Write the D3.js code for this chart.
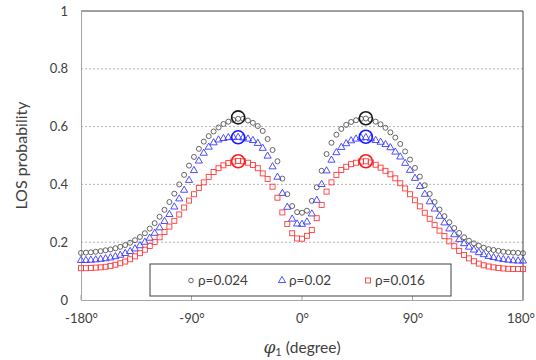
<!DOCTYPE html>
<html>
<head>
<meta charset="utf-8">
<script src="https://cdn.jsdelivr.net/npm/d3@7"></script>
<style>
  body { margin: 0; background: #fff; }
  svg text { font-family: Lato, "Open Sans", sans-serif; fill: #404040; }
</style>
</head>
<body>
<svg id="chart" width="536" height="360"></svg>
<script>
// azimuth angles (degrees), one sample every 4 degrees
const angles = [-180,-176,-172,-168,-164,-160,-156,-152,-148,-144,-140,-136,-132,-128,-124,-120,
  -116,-112,-108,-104,-100,-96,-92,-88,-84,-80,-76,-72,-68,-64,-60,-56,-52,-48,-44,-40,-36,-32,
  -28,-24,-20,-16,-12,-8,-4,0,4,8,12,16,20,24,28,32,36,40,44,48,52,56,60,64,68,72,76,80,84,88,
  92,96,100,104,108,112,116,120,124,128,132,136,140,144,148,152,156,160,164,168,172,176,180];

// LOS probability, rho = 0.024
const los024 = [0.163,0.164,0.165,0.167,0.169,0.172,0.175,0.179,0.184,0.19,0.198,0.207,0.218,0.231,
  0.247,0.266,0.288,0.312,0.339,0.368,0.4,0.433,0.465,0.495,0.523,0.548,0.567,0.583,0.597,0.609,
  0.617,0.623,0.627,0.627,0.621,0.613,0.602,0.585,0.557,0.519,0.48,0.42,0.366,0.325,0.304,0.302,
  0.309,0.343,0.39,0.447,0.505,0.544,0.572,0.592,0.606,0.616,0.622,0.627,0.628,0.624,0.617,0.608,
  0.596,0.58,0.562,0.54,0.514,0.486,0.457,0.427,0.397,0.367,0.339,0.313,0.29,0.269,0.249,0.232,
  0.217,0.205,0.196,0.188,0.181,0.176,0.173,0.17,0.167,0.165,0.164,0.163,0.162];

// LOS probability, rho = 0.02
const los020 = [0.137,0.137,0.138,0.139,0.141,0.143,0.146,0.15,0.155,0.161,0.168,0.177,0.188,0.2,
  0.214,0.231,0.25,0.272,0.296,0.322,0.35,0.38,0.414,0.448,0.481,0.508,0.529,0.544,0.554,0.559,
  0.562,0.563,0.563,0.561,0.557,0.552,0.542,0.525,0.498,0.461,0.425,0.369,0.321,0.28,0.263,0.262,
  0.27,0.298,0.345,0.4,0.447,0.484,0.51,0.528,0.541,0.551,0.557,0.561,0.562,0.558,0.552,0.546,
  0.538,0.527,0.512,0.495,0.473,0.449,0.421,0.393,0.366,0.34,0.315,0.29,0.267,0.246,0.226,0.209,
  0.195,0.183,0.173,0.164,0.157,0.151,0.147,0.143,0.14,0.138,0.136,0.135,0.135];

// LOS probability, rho = 0.016
const los016 = [0.11,0.11,0.111,0.112,0.113,0.115,0.118,0.122,0.127,0.133,0.141,0.151,0.162,0.174,
  0.187,0.201,0.217,0.235,0.254,0.274,0.296,0.32,0.344,0.366,0.388,0.407,0.426,0.443,0.456,0.466,
  0.474,0.479,0.481,0.48,0.475,0.467,0.456,0.438,0.419,0.392,0.354,0.303,0.263,0.231,0.213,0.212,
  0.222,0.242,0.283,0.329,0.375,0.407,0.433,0.45,0.461,0.47,0.475,0.479,0.48,0.476,0.468,0.458,
  0.447,0.435,0.421,0.404,0.386,0.366,0.345,0.324,0.302,0.281,0.26,0.24,0.221,0.203,0.186,0.17,
  0.156,0.144,0.134,0.126,0.12,0.116,0.113,0.111,0.109,0.108,0.107,0.107,0.107];

// highlighted maxima (big circles)
const peakAngles = [-52, 52];
const peak024 = [0.632, 0.629];
const peak020 = [0.563, 0.565];
const peak016 = [0.48, 0.48];

const xTicks = [-180, -90, 0, 90, 180];
const yTicks = [0, 0.2, 0.4, 0.6, 0.8, 1];
const seriesNames = ["ρ=0.024", "ρ=0.02", "ρ=0.016"];

const margin = { top: 11, right: 13, bottom: 60, left: 81 };
const width = 536 - margin.left - margin.right;
const height = 360 - margin.top - margin.bottom;

const svg = d3.select("#chart");
const g = svg.append("g").attr("transform", "translate(" + margin.left + "," + margin.top + ")");

const x = d3.scaleLinear().domain([-180, 180]).range([0, width]);
const y = d3.scaleLinear().domain([0, 1]).range([height, 0]);

// dashed horizontal gridlines
g.append("g")
  .selectAll("line")
  .data(yTicks.filter(d => d > 0 && d < 1))
  .enter().append("line")
  .attr("x1", 0).attr("x2", width)
  .attr("y1", d => y(d)).attr("y2", d => y(d))
  .attr("stroke", "#a0a0a0")
  .attr("stroke-width", 0.8)
  .attr("stroke-dasharray", "2,2");

// plot border top / right
g.append("line").attr("x1", 0).attr("x2", width).attr("y1", 0).attr("y2", 0)
  .attr("stroke", "#404040").attr("stroke-width", 1);
g.append("line").attr("x1", width).attr("x2", width).attr("y1", 0).attr("y2", height)
  .attr("stroke", "#404040").attr("stroke-width", 1);

// axes
const xAxis = g.append("g")
  .attr("transform", "translate(0," + height + ")")
  .call(d3.axisBottom(x).tickValues(xTicks).tickSize(0).tickPadding(14).tickFormat(d => d + "°"));
const yAxis = g.append("g")
  .call(d3.axisLeft(y).tickValues(yTicks).tickSize(0).tickPadding(13).tickFormat(d => d));
[xAxis, yAxis].forEach(a => {
  a.select(".domain").attr("stroke", "#a6a6a6").attr("stroke-width", 1);
  a.selectAll("text").style("font-size", "13px").attr("fill", "#404040");
});
// keep the last label inside the page
xAxis.selectAll(".tick").filter(d => d === 180).select("text").attr("dx", "-0.2em");

// small inner ticks on x axis
g.append("g").selectAll("line")
  .data(xTicks)
  .enter().append("line")
  .attr("x1", d => x(d)).attr("x2", d => x(d))
  .attr("y1", height).attr("y2", height - 5)
  .attr("stroke", "#a6a6a6");

// markers
const symTri = d3.symbol().type(d3.symbolTriangle).size(22);

g.append("g").selectAll("circle")
  .data(angles.map((a, i) => [a, los024[i]]))
  .enter().append("circle")
  .attr("cx", d => x(d[0])).attr("cy", d => y(d[1])).attr("r", 2.5)
  .attr("fill", "none").attr("stroke", "#555").attr("stroke-width", 0.9);

g.append("g").selectAll("path")
  .data(angles.map((a, i) => [a, los020[i]]))
  .enter().append("path")
  .attr("d", symTri)
  .attr("transform", d => "translate(" + x(d[0]) + "," + y(d[1]) + ")")
  .attr("fill", "none").attr("stroke", "#3a3aff").attr("stroke-width", 0.9);

g.append("g").selectAll("rect")
  .data(angles.map((a, i) => [a, los016[i]]))
  .enter().append("rect")
  .attr("x", d => x(d[0]) - 2.5).attr("y", d => y(d[1]) - 2.5)
  .attr("width", 5).attr("height", 5)
  .attr("fill", "none").attr("stroke", "#ff3b3b").attr("stroke-width", 0.9);

// big circles on the maxima
[[peak024, "#1a1a1a"], [peak020, "#1a1aff"], [peak016, "#ff1a1a"]].forEach(([vals, col]) => {
  g.append("g").selectAll("circle")
    .data(peakAngles.map((a, i) => [a, vals[i]]))
    .enter().append("circle")
    .attr("cx", d => x(d[0])).attr("cy", d => y(d[1])).attr("r", 6.5)
    .attr("fill", "none").attr("stroke", col).attr("stroke-width", 1.6);
});

// legend
const lg = svg.append("g").attr("transform", "translate(150,264)");
lg.append("rect").attr("width", 301).attr("height", 32)
  .attr("fill", "#fff").attr("stroke", "#404040").attr("stroke-width", 1);
const itemX = [41, 132, 218];
lg.append("circle").attr("cx", itemX[0]).attr("cy", 16.5).attr("r", 2.3)
  .attr("fill", "none").attr("stroke", "#555").attr("stroke-width", 0.9);
lg.append("path").attr("d", symTri).attr("transform", "translate(" + itemX[1] + ",16.5)")
  .attr("fill", "none").attr("stroke", "#3a3aff").attr("stroke-width", 0.9);
lg.append("rect").attr("x", itemX[2] - 2.5).attr("y", 14).attr("width", 5).attr("height", 5)
  .attr("fill", "none").attr("stroke", "#ff3b3b").attr("stroke-width", 0.9);
lg.selectAll("text.lab")
  .data(seriesNames)
  .enter().append("text")
  .attr("class", "lab")
  .attr("x", (d, i) => itemX[i] + 7)
  .attr("y", 21)
  .style("font-size", "13.5px")
  .text(d => d);

// axis titles
svg.append("text")
  .attr("transform", "translate(27," + (margin.top + height / 2) + ") rotate(-90)")
  .attr("text-anchor", "middle")
  .style("font-size", "16px")
  .text("LOS probability");

const xt = svg.append("text")
  .attr("x", 302).attr("y", 353)
  .attr("text-anchor", "middle")
  .style("font-size", "15.5px");
xt.append("tspan").style("font-style", "italic").style("font-size", "17px")
  .style("font-family", "'DejaVu Serif', serif").text("φ");
xt.append("tspan").attr("dy", 3).style("font-size", "11px").text("1");
xt.append("tspan").attr("dy", -3).text(" (degree)");
</script>
</body>
</html>
